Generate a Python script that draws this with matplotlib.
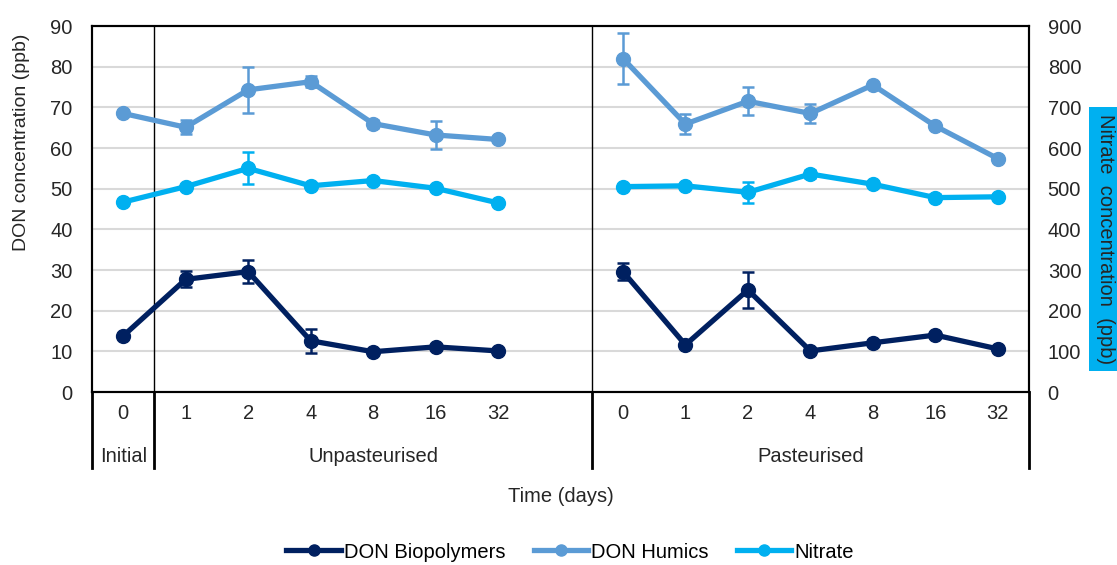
import numpy as np
import matplotlib.pyplot as plt
import matplotlib.transforms as mtransforms

plt.rcParams['font.family'] = ['Liberation Sans', 'DejaVu Sans']

days = ["0", "1", "2", "4", "8", "16", "32", "", "0", "1", "2", "4", "8", "16", "32"]
groups = ["Initial", "Unpasteurised", "Pasteurised"]

# DON (ppb), left axis; None = empty slot between treatments
bio = [13.8, 27.7, 29.6, 12.6, 9.9, 11.1, 10.1, None, 29.6, 11.6, 25.1, 10.1, 12.1, 14.0, 10.6]
bio_err = [0, 2.0, 2.9, 2.9, 0, 0, 0, 0, 2.1, 0, 4.5, 0, 0, 0, 0]
humics = [68.5, 65.1, 74.3, 76.3, 66.0, 63.2, 62.1, None, 82.0, 65.9, 71.5, 68.5, 75.5, 65.4, 57.4]
humics_err = [0, 1.7, 5.7, 1.3, 1.0, 3.5, 0.5, 0, 6.2, 2.5, 3.4, 2.4, 0, 0, 0]
# nitrate (ppb), right axis
nitrate = [467, 505, 550, 507, 520, 501, 465, None, 505, 507, 491, 536, 511, 478, 480]
nitrate_err = [0, 0, 39, 0, 0, 0, 0, 0, 0, 0, 26, 10, 0, 8, 0]

c_bio = "#002060"
c_hum = "#5B9BD5"
c_nit = "#00B0F0"
txt = "#262626"
fs = 14.5

x = np.arange(len(days))
W, H = 1117, 565
fig = plt.figure(figsize=(W / 100, H / 100), dpi=100)
ax = fig.add_axes([92 / W, 1 - 392 / H, (1029 - 92) / W, (392 - 26) / H])
ax2 = ax.twinx()


def series(a, vals, errs, color, label):
    v = np.array([np.nan if q is None else q for q in vals], dtype=float)
    e = np.array(errs, dtype=float)
    a.errorbar(x, v, yerr=np.where(e > 0, e, np.nan), fmt="none", ecolor=color,
               elinewidth=1.8, capsize=4, capthick=1.8, zorder=3)
    line, = a.plot(x, v, color=color, lw=3.8, marker="o", ms=10, label=label, zorder=4)
    return line


l1 = series(ax, bio, bio_err, c_bio, "DON Biopolymers")
l2 = series(ax, humics, humics_err, c_hum, "DON Humics")
l3 = series(ax2, nitrate, nitrate_err, c_nit, "Nitrate")

ax.set_xlim(-0.5, len(days) - 0.5)
ax.set_ylim(0, 90)
ax2.set_ylim(0, 900)
ax.set_yticks(np.arange(0, 91, 10))
ax2.set_yticks(np.arange(0, 901, 100))
ax.yaxis.grid(True, color="#D9D9D9", lw=1.5)
ax.set_axisbelow(True)
ax.tick_params(axis="y", length=0, pad=14, labelsize=fs, labelcolor=txt)
ax2.tick_params(axis="y", length=0, pad=13.5, labelsize=fs, labelcolor=txt)
ax.set_xticks([])
for a in (ax, ax2):
    for s in a.spines.values():
        s.set_color("black")
        s.set_linewidth(1.5)

# category labels below the axis
trans = mtransforms.blended_transform_factory(ax.transData, ax.transAxes)
for i, d in enumerate(days):
    ax.text(i, -0.06, d, transform=trans, ha="center", va="center", fontsize=fs, color=txt)
ax.text(0, -0.175, groups[0], transform=trans, ha="center", va="center", fontsize=fs, color=txt)
ax.text(4, -0.175, groups[1], transform=trans, ha="center", va="center", fontsize=fs, color=txt)
ax.text(11, -0.175, groups[2], transform=trans, ha="center", va="center", fontsize=fs, color=txt)

# separators
for b in [0.5, 7.5]:
    ax.plot([b, b], [0, 1], transform=trans, color="black", lw=1, zorder=2)
for b in [-0.5, 0.5, 7.5, len(days) - 0.5]:
    ax.plot([b, b], [0, -0.208], transform=trans, color="black", lw=2, clip_on=False)

fig.text(561 / W, 1 - 497 / H, "Time (days)", ha="center", va="center", fontsize=fs, color=txt)
fig.text(22 / W, 1 - 142 / H, "DON concentration (ppb)", rotation=90, ha="center", va="center",
         fontsize=14, color=txt)
fig.text(1105 / W, 1 - 239 / H, "Nitrate  concentration  (ppb)", rotation=270, ha="center", va="center",
         fontsize=fs, color=txt,
         bbox=dict(boxstyle="square,pad=0.32", facecolor=c_nit, edgecolor="none"))

fig.legend(handles=[l1, l2, l3], loc="center", bbox_to_anchor=(570 / W, 1 - 552 / H), ncol=3,
           frameon=False, fontsize=fs, handlelength=2.7, columnspacing=1.4, handletextpad=0.15,
           markerscale=0.8)

fig.savefig("out.png", dpi=100)
